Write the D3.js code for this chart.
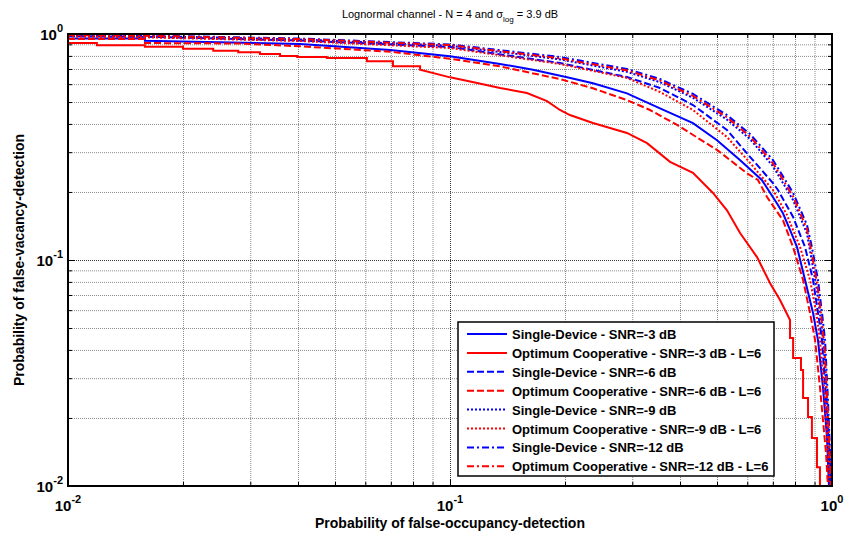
<!DOCTYPE html>
<html>
<head>
<meta charset="utf-8">
<script src="https://cdn.jsdelivr.net/npm/d3@7"></script>
<style>
  body { margin: 0; background: #fff; }
  svg { display: block; font-family: "Liberation Sans", Arial, Helvetica, sans-serif; }
</style>
</head>
<body>
<svg id="chart" width="844" height="535"></svg>
<script>
// ---- data: probability of false-occupancy-detection (x) vs false-vacancy-detection (y) ----
const majorTicks = [0.01, 0.1, 1];
const majorExponents = ["-2", "-1", "0"];
const minorTicks = [0.02, 0.03, 0.04, 0.05, 0.06, 0.07, 0.08, 0.09,
                    0.2, 0.3, 0.4, 0.5, 0.6, 0.7, 0.8, 0.9];

const legendLabels = [
  "Single-Device - SNR=-3 dB",
  "Optimum Cooperative - SNR=-3 dB - L=6",
  "Single-Device - SNR=-6 dB",
  "Optimum Cooperative - SNR=-6 dB - L=6",
  "Single-Device - SNR=-9 dB",
  "Optimum Cooperative - SNR=-9 dB - L=6",
  "Single-Device - SNR=-12 dB",
  "Optimum Cooperative - SNR=-12 dB - L=6"
];

const singleSnr3 = [[0.01,0.955],[0.0159,0.955],[0.0159,0.934],[0.0405,0.903],[0.0697,0.850],[0.1,0.797],
  [0.1352,0.737],[0.1649,0.695],[0.2025,0.643],[0.2367,0.605],[0.2906,0.546],[0.3546,0.469],[0.4326,0.403],
  [0.5,0.339],[0.574,0.277],[0.655,0.226],[0.718,0.178],[0.744,0.161],[0.7765,0.136],[0.810,0.114],
  [0.850,0.0816],[0.892,0.0583],[0.919,0.0442],[0.947,0.0274],[0.970,0.0165],[0.982,0.0099]];

const coopSnr3 = [[0.01,0.912],[0.0119,0.912],[0.0119,0.891],[0.0159,0.891],[0.0159,0.879],[0.02,0.879],
  [0.02,0.861],[0.024,0.861],[0.024,0.844],[0.0279,0.844],[0.0279,0.830],[0.0318,0.830],[0.0318,0.816],
  [0.0359,0.816],[0.0359,0.799],[0.0398,0.799],[0.0398,0.791],[0.0476,0.791],[0.0476,0.783],[0.0606,0.783],
  [0.0606,0.757],[0.0709,0.757],[0.0709,0.720],[0.0835,0.720],[0.0835,0.695],[0.1,0.643],[0.1178,0.607],
  [0.1352,0.577],[0.159,0.548],[0.1795,0.505],[0.194,0.461],[0.206,0.438],[0.2367,0.404],[0.2906,0.365],
  [0.328,0.329],[0.3767,0.272],[0.4326,0.243],[0.488,0.198],[0.531,0.166],[0.574,0.132],[0.6364,0.103],
  [0.688,0.0791],[0.731,0.0665],[0.7765,0.0543],[0.7765,0.0452],[0.791,0.0452],[0.791,0.0368],
  [0.8295,0.0368],[0.8295,0.0326],[0.840,0.0326],[0.840,0.0245],[0.8655,0.0245],[0.8655,0.0202],
  [0.886,0.0202],[0.886,0.0163],[0.9135,0.0163],[0.9135,0.0121],[0.930,0.0121],[0.930,0.0098]];

const singleSnr6 = [[0.01,0.980],[0.0159,0.972],[0.0405,0.936],[0.1,0.876],[0.194,0.744],[0.2906,0.645],
  [0.3546,0.577],[0.4326,0.485],[0.531,0.376],[0.610,0.286],[0.7006,0.219],[0.722,0.204],[0.791,0.155],
  [0.850,0.114],[0.892,0.0816],[0.919,0.0583],[0.9415,0.0442],[0.9645,0.0240],[0.982,0.0144],[0.988,0.0099]];

const coopSnr6 = [[0.01,0.950],[0.0159,0.950],[0.0159,0.912],[0.0279,0.908],[0.0405,0.882],[0.0697,0.835],
  [0.1,0.777],[0.1352,0.719],[0.194,0.632],[0.2367,0.575],[0.2906,0.510],[0.3339,0.461],[0.3929,0.396],
  [0.5,0.307],[0.599,0.242],[0.640,0.226],[0.676,0.190],[0.744,0.150],[0.791,0.114],[0.840,0.0816],
  [0.876,0.0583],[0.903,0.0442],[0.930,0.0274],[0.9645,0.0140],[0.976,0.0099]];

const singleSnr9 = [[0.01,0.988],[0.0159,0.980],[0.0405,0.946],[0.1,0.887],[0.194,0.772],[0.2906,0.680],
  [0.3546,0.612],[0.4326,0.522],[0.531,0.418],[0.610,0.343],[0.7006,0.260],[0.791,0.184],[0.860,0.131],
  [0.880,0.105],[0.912,0.075],[0.935,0.054],[0.952,0.041],[0.971,0.023],[0.985,0.014],[0.992,0.0099]];

const coopSnr9 = [[0.01,0.975],[0.0159,0.967],[0.0405,0.931],[0.1,0.867],[0.194,0.737],[0.2906,0.639],
  [0.3546,0.554],[0.4326,0.461],[0.531,0.350],[0.610,0.269],[0.7006,0.204],[0.76,0.160],[0.825,0.114],
  [0.876,0.0816],[0.910,0.0583],[0.930,0.0442],[0.959,0.0240],[0.976,0.0144],[0.988,0.0099]];

const singleSnr12 = [[0.01,0.992],[0.0159,0.985],[0.0405,0.955],[0.1,0.899],[0.194,0.791],[0.2906,0.700],
  [0.3546,0.632],[0.4326,0.543],[0.531,0.438],[0.610,0.361],[0.7006,0.277],[0.791,0.198],[0.860,0.143],
  [0.886,0.114],[0.919,0.0816],[0.9415,0.0583],[0.959,0.0442],[0.976,0.0240],[0.988,0.0144],[0.994,0.0099]];

const coopSnr12 = [[0.01,0.990],[0.0159,0.982],[0.0405,0.950],[0.1,0.893],[0.194,0.780],[0.2906,0.690],
  [0.3546,0.622],[0.4326,0.532],[0.531,0.428],[0.610,0.352],[0.7006,0.268],[0.791,0.191],[0.860,0.137],
  [0.883,0.109],[0.915,0.078],[0.938,0.056],[0.955,0.042],[0.973,0.023],[0.986,0.014],[0.993,0.0099]];

// drawing order and line styles
const seriesData = [singleSnr3, coopSnr3, singleSnr6, coopSnr6, singleSnr9, coopSnr9, singleSnr12, coopSnr12];
const seriesColor = ["#0000ff", "#ff0000", "#0000ff", "#ff0000", "#0000ff", "#ff0000", "#0000ff", "#ff0000"];
const seriesDash = [null, null, "7,3", "7,3", "2,2", "2,2", "7,3,2,3", "7,3,2,3"];

// ---- layout ----
const svg = d3.select("#chart");
const plotLeft = 68, plotRight = 832, plotTop = 34, plotBottom = 486;

const x = d3.scaleLog().domain([0.01, 1]).range([plotLeft, plotRight]);
const y = d3.scaleLog().domain([0.01, 1]).range([plotBottom, plotTop]);

// grid lines (dotted)
function gridLines(values, color) {
  svg.append("g").attr("transform", `translate(0,${plotBottom})`)
    .call(d3.axisBottom(x).tickValues(values).tickSize(-(plotBottom - plotTop)).tickFormat(""))
    .call(g => g.select(".domain").remove())
    .call(g => g.selectAll("line").attr("stroke", color).attr("stroke-dasharray", "1,1"));
  svg.append("g").attr("transform", `translate(${plotLeft},0)`)
    .call(d3.axisLeft(y).tickValues(values).tickSize(-(plotRight - plotLeft)).tickFormat(""))
    .call(g => g.select(".domain").remove())
    .call(g => g.selectAll("line").attr("stroke", color).attr("stroke-dasharray", "1,1"));
}
gridLines(minorTicks, "#8a8a8a");
gridLines([0.1], "#333");

// curves
svg.append("clipPath").attr("id", "plotClip")
  .append("rect").attr("x", plotLeft).attr("y", plotTop - 1)
  .attr("width", plotRight - plotLeft).attr("height", plotBottom - plotTop + 1);

const line = d3.line().x(d => x(d[0])).y(d => y(d[1]));
const curvesG = svg.append("g").attr("clip-path", "url(#plotClip)");
seriesData.forEach((s, i) => {
  curvesG.append("path")
    .attr("d", line(s))
    .attr("fill", "none")
    .attr("stroke", seriesColor[i])
    .attr("stroke-width", 2)
    .attr("stroke-dasharray", seriesDash[i]);
});

// ticks on all four sides, pointing inward
function tickAxis(axisFn, scale, values, size, tx, ty) {
  svg.append("g").attr("transform", `translate(${tx},${ty})`)
    .call(axisFn(scale).tickValues(values).tickSize(size).tickFormat(""))
    .call(g => g.select(".domain").remove())
    .call(g => g.selectAll("line").attr("stroke", "#000").attr("stroke-width", 1));
}
tickAxis(d3.axisBottom, x, minorTicks, -4, 0, plotBottom);
tickAxis(d3.axisTop, x, minorTicks, -4, 0, plotTop);
tickAxis(d3.axisLeft, y, minorTicks, -4, plotLeft, 0);
tickAxis(d3.axisRight, y, minorTicks, -4, plotRight, 0);
tickAxis(d3.axisBottom, x, majorTicks, -7, 0, plotBottom);
tickAxis(d3.axisTop, x, majorTicks, -7, 0, plotTop);
tickAxis(d3.axisLeft, y, majorTicks, -7, plotLeft, 0);
tickAxis(d3.axisRight, y, majorTicks, -7, plotRight, 0);

// axes box
svg.append("rect").attr("x", plotLeft).attr("y", plotTop)
  .attr("width", plotRight - plotLeft).attr("height", plotBottom - plotTop)
  .attr("fill", "none").attr("stroke", "#000").attr("stroke-width", 2);

// tick labels with superscript exponents
majorTicks.forEach((v, i) => {
  const tx = svg.append("text").attr("x", x(v)).attr("y", plotBottom + 25)
    .attr("text-anchor", "middle").attr("font-size", 15).attr("font-weight", "bold");
  tx.append("tspan").text("10");
  tx.append("tspan").attr("dy", -8).attr("font-size", 11).text(majorExponents[i]);

  const ty = svg.append("text").attr("x", plotLeft - 5).attr("y", y(v) + 6)
    .attr("text-anchor", "end").attr("font-size", 15).attr("font-weight", "bold");
  ty.append("tspan").text("10");
  ty.append("tspan").attr("dy", -8).attr("font-size", 11).text(majorExponents[i]);
});

// axis titles
svg.append("text").attr("x", (plotLeft + plotRight) / 2).attr("y", 528)
  .attr("text-anchor", "middle").attr("font-size", 14).attr("font-weight", "bold")
  .text("Probability of false-occupancy-detection");
svg.append("text").attr("transform", `translate(24,${(plotTop + plotBottom) / 2}) rotate(-90)`)
  .attr("text-anchor", "middle").attr("font-size", 14).attr("font-weight", "bold")
  .text("Probability of false-vacancy-detection");

// chart title
const title = svg.append("text").attr("x", (plotLeft + plotRight) / 2).attr("y", 18)
  .attr("text-anchor", "middle").attr("font-size", 11);
title.append("tspan").text("Lognormal channel - N = 4 and \u03c3");
title.append("tspan").attr("dy", 4).attr("font-size", 8).text("log");
title.append("tspan").attr("dy", -4).text(" = 3.9 dB");

// legend
const lg = svg.append("g");
lg.append("rect").attr("x", 458).attr("y", 322).attr("width", 316).attr("height", 154)
  .attr("fill", "#fff").attr("stroke", "#000").attr("stroke-width", 1.5);
legendLabels.forEach((lab, i) => {
  const ly = 334 + i * 18.9;
  lg.append("line").attr("x1", 467).attr("x2", 507).attr("y1", ly).attr("y2", ly)
    .attr("stroke", seriesColor[i]).attr("stroke-width", 2).attr("stroke-dasharray", seriesDash[i]);
  lg.append("text").attr("x", 512).attr("y", ly + 5).attr("font-size", 13).attr("font-weight", "bold")
    .text(lab);
});
</script>
</body>
</html>
